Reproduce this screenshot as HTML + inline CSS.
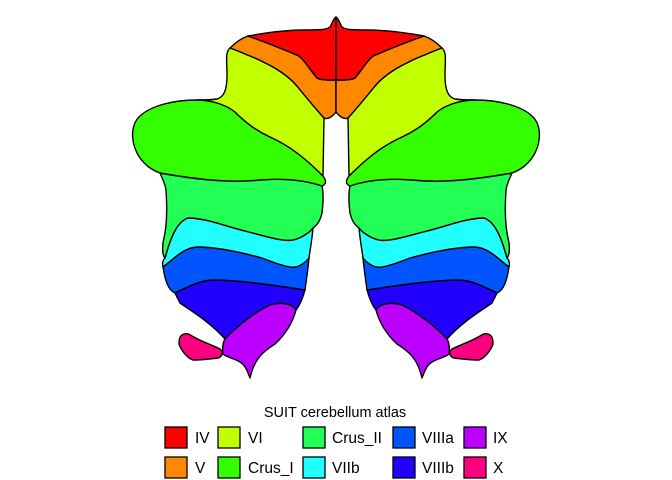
<!DOCTYPE html>
<html><head><style>
html,body{margin:0;padding:0;background:#fff;}
svg{display:block;}
text{font-family:"Liberation Sans",Arial,sans-serif;fill:#000;}
</style></head><body>
<svg width="672" height="480" viewBox="0 0 672 480" xmlns="http://www.w3.org/2000/svg">
<defs>
<g id="half" stroke="#000" stroke-width="1.4" stroke-linejoin="round">
  <path fill="#FF0080" d="M182,335 C185,333 188,333 192,336 C200,341 212,345 220,349 C224,352 222,357 218,358 C210,359 200,360 193,360 C187,358 181,350 179,344 C179,339 180,336 182,335 Z"/>
  <path fill="#2200FF" d="M175,293 C190,286 198,281 212,280 C240,280 280,286 305,290 C303,297 300,305 296,310 C290,304 280,302 270,305 C255,312 235,328 225,339 C210,322 190,310 180,303 Z"/>
  <path fill="#BB00FF" d="M225,339 C235,328 255,312 270,305 C280,302 292,303 296,310 C293,322 285,335 275,344 C262,352 254,360 250,378 C247,370 245,365 240,362 C233,358 226,357 223,354 C222,348 223,342 225,339 Z"/>
  <path fill="#0055FF" d="M163,267 C175,258 183,248 197,247 C215,247 240,252 262,258 C280,265 290,268 296,267 C302,265 306,262 309,258 C308,270 306,282 305,290 C280,286 240,280 212,280 C198,281 190,286 175,293 C168,290 165,280 163,267 Z"/>
  <path fill="#22FFFF" d="M165,258 C170,240 176,222 188,218 C205,218 225,226 245,231 C265,236 283,242 293,240 C302,238 310,232 313,228 C312,240 310,250 309,258 C306,262 302,265 296,267 C290,268 280,265 262,258 C240,252 215,247 197,247 C183,248 175,258 163,267 C162,263 163,260 165,258 Z"/>
  <path fill="#22FF55" d="M160,173 C200,180 230,183 260,180 C285,178 305,180 322,186 C324,195 323,205 322,213 C320,222 316,226 313,228 C310,232 302,238 293,240 C283,242 265,236 245,231 C225,226 205,218 188,218 C176,222 170,240 165,258 C162,255 162,245 164,238 C167,225 167,205 166,190 C165,183 162,178 160,173 Z"/>
  <path fill="#33FF00" d="M197,100 C175,100 150,105 138,118 C130,128 131,145 140,158 C146,166 152,170 160,173 C200,180 230,183 260,180 C285,178 305,180 322,186 C327,184 326,180 323,176 C305,158 290,146 270,137 C255,130 245,122 235,112 C225,104 210,100 197,100 Z"/>
  <path fill="#C2FF00" d="M230,48 C225,52 227,62 227,75 C227,90 224,97 217,99 C210,100 203,100 197,100 C210,100 225,104 235,112 C245,122 255,130 270,137 C290,146 305,158 323,176 L324,118 C315,108 305,96 297,86 C285,72 268,64 255,58 C245,54 236,50 230,48 Z"/>
  <path fill="#FF8800" d="M248,36 C242,38 236,42 230,48 C236,50 245,54 255,58 C268,64 285,72 297,86 C305,96 315,108 324,118 C328,120 333,116 336,112 L336,80 C328,80 320,80 317,78 C310,70 306,62 299,56 C285,50 265,42 248,36 Z"/>
  <path fill="#FF0000" d="M248,36 C265,42 285,50 299,56 C306,62 310,70 317,78 C320,80 328,80 336,80 L336,17 C333,19 332,24 330,27 C326,30 318,30 305,30 C290,30 270,32 248,36 Z"/>
</g>
</defs>
<use href="#half"/>
<use href="#half" transform="translate(672,0) scale(-1,1)"/>

<text x="335" y="417" font-size="14.5" text-anchor="middle">SUIT cerebellum atlas</text>
<g stroke="#000" stroke-width="1.3">
<rect x="165" y="427" width="22" height="21" fill="#FF0000"/>
<rect x="165" y="457" width="22" height="21" fill="#FF8800"/>
<rect x="218" y="427" width="22" height="21" fill="#C2FF00"/>
<rect x="218" y="457" width="22" height="21" fill="#33FF00"/>
<rect x="303" y="427" width="22" height="21" fill="#22FF55"/>
<rect x="303" y="457" width="22" height="21" fill="#22FFFF"/>
<rect x="393" y="427" width="22" height="21" fill="#0055FF"/>
<rect x="393" y="457" width="22" height="21" fill="#2200FF"/>
<rect x="464" y="427" width="22" height="21" fill="#BB00FF"/>
<rect x="464" y="457" width="22" height="21" fill="#FF0080"/>
</g>
<g font-size="15.5">
<text x="195" y="443">IV</text>
<text x="195" y="473">V</text>
<text x="248" y="443">VI</text>
<text x="248" y="473">Crus_I</text>
<text x="332" y="443">Crus_II</text>
<text x="332" y="473">VIIb</text>
<text x="422" y="443">VIIIa</text>
<text x="422" y="473">VIIIb</text>
<text x="493" y="443">IX</text>
<text x="493" y="473">X</text>
</g>
</svg>
</body></html>
